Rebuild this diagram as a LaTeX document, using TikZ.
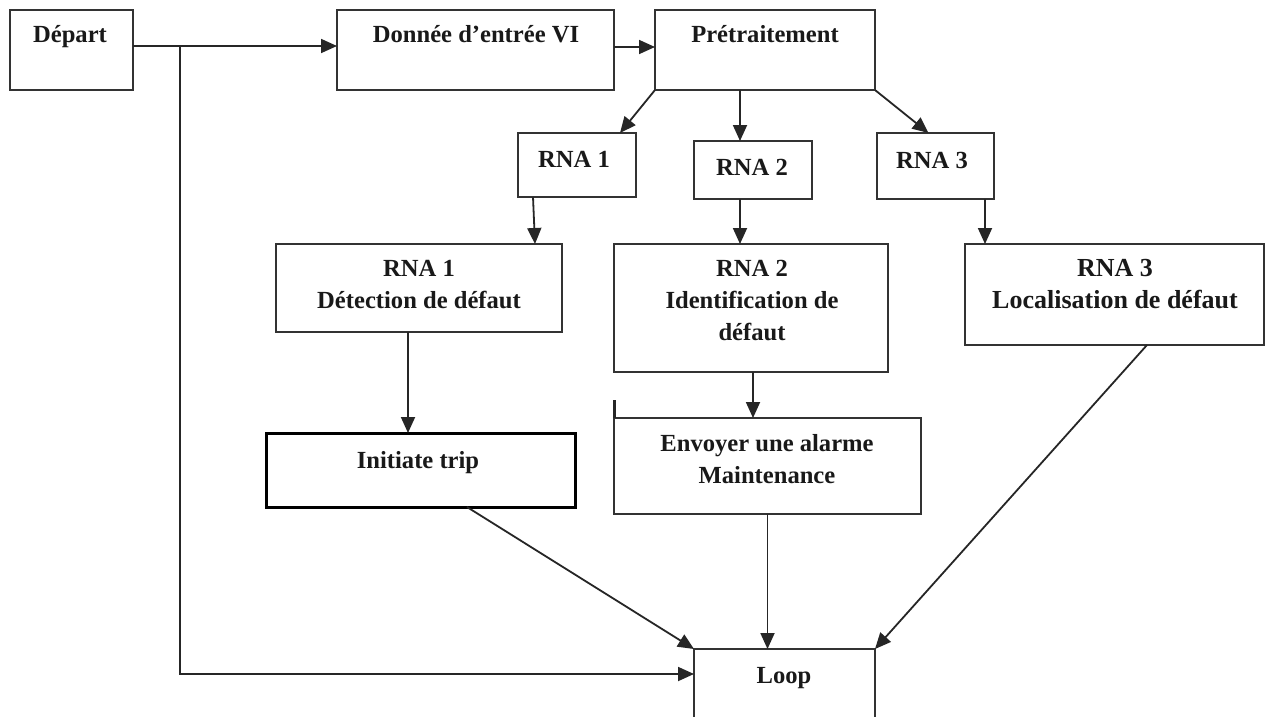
\documentclass[tikz,border=0pt]{standalone}
\usepackage{fontspec}
\setmainfont{Liberation Serif}
\usetikzlibrary{arrows.meta}
\begin{document}
\begin{tikzpicture}[x=1pt,y=-1pt,
  box/.style={draw=black!80, line width=1.8pt, anchor=north west, inner sep=0pt, outer sep=0pt},
  lbl/.style={anchor=base, inner sep=0pt, font=\fontsize{24.6}{32}\selectfont\bfseries, text=black!90, align=center},
  biglbl/.style={lbl, font=\fontsize{26}{32}\selectfont\bfseries},
  flow/.style={draw=black!85, line width=1.8pt, -{Triangle[length=16pt,width=14pt]}},
]
\useasboundingbox (0,0) rectangle (1270,717);
\fill[white] (0,0) rectangle (1270,717);
\clip (0,0) rectangle (1270,717);

% boxes
\node[box, minimum width=123pt, minimum height=80pt] (dep) at (10,10) {};
\node[box, minimum width=277pt, minimum height=80pt] (don) at (337,10) {};
\node[box, minimum width=220pt, minimum height=80pt] (pre) at (655,10) {};
\node[box, minimum width=118pt, minimum height=64pt] (r1) at (518,133) {};
\node[box, minimum width=118pt, minimum height=58pt] (r2) at (694,141) {};
\node[box, minimum width=117pt, minimum height=66pt] (r3) at (877,133) {};
\node[box, minimum width=286pt, minimum height=88pt] (d1) at (276,244) {};
\node[box, minimum width=274pt, minimum height=128pt] (d2) at (614,244) {};
\node[box, minimum width=299pt, minimum height=101pt] (d3) at (965,244) {};
\node[box, line width=3pt, draw=black, minimum width=309pt, minimum height=74pt] (trip) at (266,433) {};
\node[box, minimum width=307pt, minimum height=96pt] (env) at (614,418) {};
\node[box, minimum width=181pt, minimum height=100pt] (loop) at (694,649) {};

% labels (multi-line labels sit on the baseline of their last line)
\node[lbl] (tdep) at (70,43) {Départ};
\node[lbl] (tdon) at (476,43) {Donnée d’entrée VI};
\node[lbl] (tpre) at (765,43) {Prétraitement};
\node[lbl] (tr1) at (574,167) {RNA 1};
\node[lbl] (tr2) at (752,175) {RNA 2};
\node[lbl] (tr3) at (932,168) {RNA 3};
\node[lbl] (td1) at (419,308) {RNA 1\\Détection de défaut};
\node[lbl] (td2) at (752,340) {RNA 2\\Identification de\\défaut};
\node[biglbl] (td3) at (1115,308) {RNA 3\\Localisation de défaut};
\node[lbl] (ttrip) at (418,468) {Initiate trip};
\node[lbl] (tenv) at (767,483) {Envoyer une alarme\\Maintenance};
\node[lbl] (tloop) at (784,683) {Loop};

% connectors
\draw[flow] ([yshift=4pt]dep.east) -- ([yshift=4pt]don.west);
\draw[flow] ([xshift=47pt,yshift=4pt]dep.east) |- ([yshift=-25pt]loop.north west);
\draw[flow] ([yshift=3pt]don.east) -- ([yshift=3pt]pre.west);
\draw[flow] (pre.south west) -- ([xshift=43pt]r1.north);
\draw[flow] ([xshift=-25pt]pre.south) -- ([xshift=-25pt]pre.south |- r2.north);
\draw[flow] (pre.south east) -- ([xshift=-7pt]r3.north);
\draw[flow] ([xshift=-44pt]r1.south) -- ([xshift=116pt]d1.north);
\draw[flow] ([xshift=-13pt]r2.south) -- ([xshift=-13pt]r2.south |- d2.north);
\draw[flow] ([xshift=49.5pt]r3.south) -- ([xshift=49.5pt]r3.south |- d3.north);
\draw[flow] ([xshift=-11pt]d1.south) -- ([xshift=-11pt]d1.south |- trip.north);
\draw[flow] ([xshift=2pt]d2.south) -- ([xshift=2pt]d2.south |- env.north);
\draw[flow] ([xshift=46.5pt]trip.south) -- (loop.north west);
\draw[flow] (env.south) -- (env.south |- loop.north);
\draw[flow] ([xshift=32.5pt]d3.south) -- (loop.north east);

% short stroke above the left edge of the alarm box
\draw[line width=3pt, black!85] ([yshift=18pt]env.north west) -- (env.north west);
\end{tikzpicture}
\end{document}
